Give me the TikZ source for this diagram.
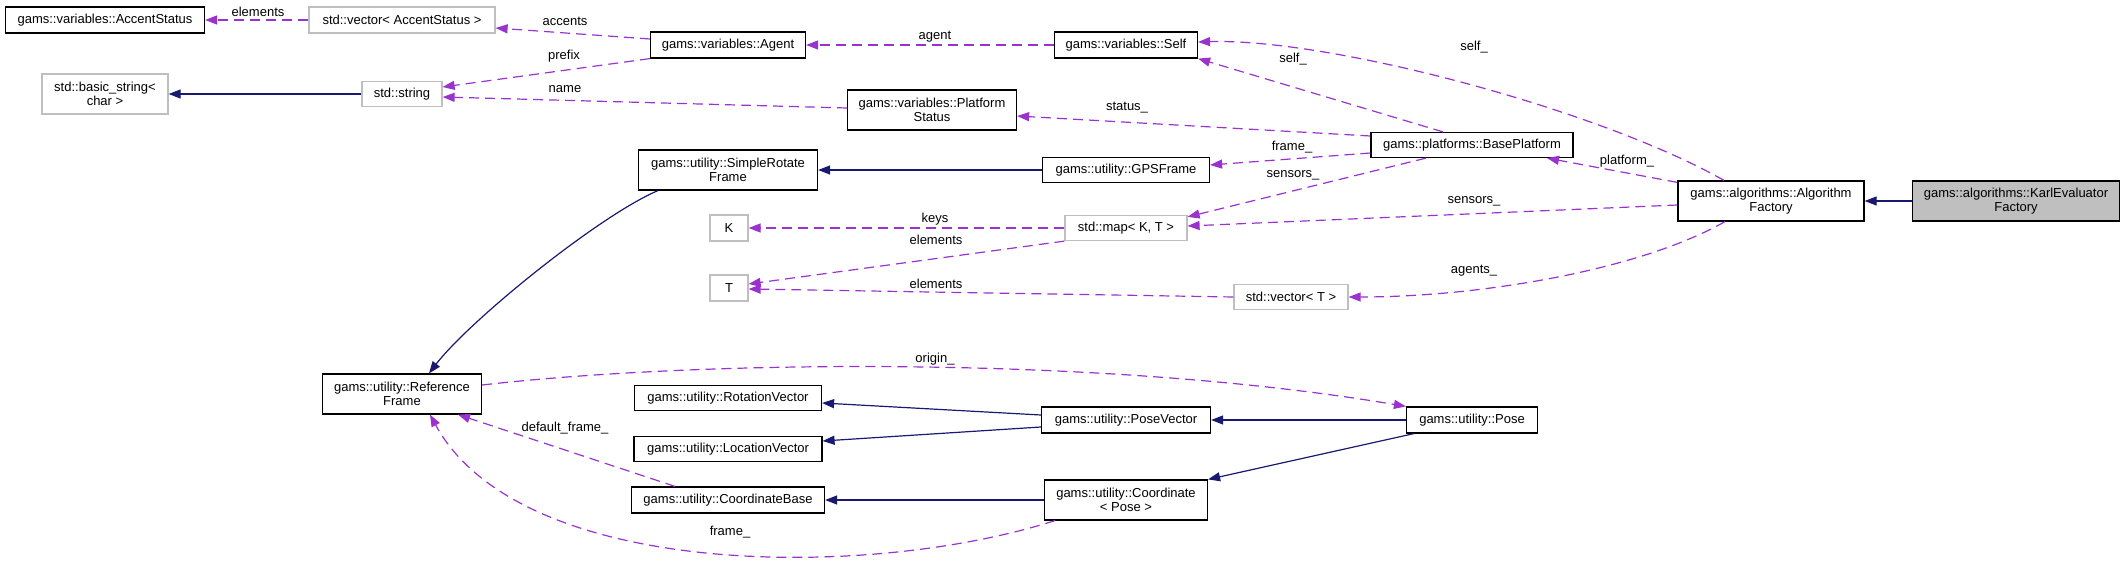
\documentclass[tikz,border=0pt]{standalone}
\usepackage{fontspec}
\setmainfont{Liberation Sans}
\usetikzlibrary{arrows.meta}
\definecolor{memcol}{HTML}{9A32CD}
\definecolor{inhcol}{HTML}{191970}
\definecolor{extcol}{HTML}{BFBFBF}

\begin{document}
\begin{tikzpicture}[x=1pt, y=-1pt, font=\fontsize{13}{14}\selectfont, >={Triangle[length=12pt,width=9pt]},
  cls/.style={draw, line width=1.2pt, align=center, inner sep=2pt, minimum height=26pt},
  ext/.style={cls, draw=extcol},
  hl/.style={cls, fill=extcol},
  tall/.style={minimum height=40pt},
  mem/.style={->, draw=memcol, line width=1.2pt, dash pattern=on 10pt off 6pt},
  inh/.style={->, draw=inhcol, line width=1.2pt},
  lbl/.style={inner sep=0pt}]
  \useasboundingbox (0,0) rectangle (2125,564);
  % classes
  \node[cls, minimum width=199pt] (accent) at (105,20) {gams::variables::AccentStatus};
  \node[ext, minimum width=186pt] (vecacc) at (402,20) {std::vector< AccentStatus >};
  \node[ext, tall, minimum width=126pt] (bstring) at (105,94) {std::basic\_string<\\char >};
  \node[ext, minimum width=80pt, minimum height=25pt] (string) at (402,94) {std::string};
  \node[cls, minimum width=155pt] (agent) at (728,45) {gams::variables::Agent};
  \node[cls, minimum width=143pt] (self) at (1126,45) {gams::variables::Self};
  \node[cls, tall, minimum width=169pt] (pstatus) at (932,110) {gams::variables::Platform\\Status};
  \node[cls, tall, minimum width=179pt] (srframe) at (728,170) {gams::utility::SimpleRotate\\Frame};
  \node[cls, minimum width=167pt, minimum height=25pt] (gps) at (1126,170) {gams::utility::GPSFrame};
  \node[cls, minimum width=202pt, minimum height=25pt] (baseplat) at (1472,145) {gams::platforms::BasePlatform};
  \node[cls, tall, minimum width=186pt] (algfac) at (1771,201) {gams::algorithms::Algorithm\\Factory};
  \node[hl, tall, minimum width=207pt] (karl) at (2016,201) {gams::algorithms::KarlEvaluator\\Factory};
  \node[ext, minimum width=38pt] (K) at (729,228) {K};
  \node[ext, minimum width=122pt, minimum height=25pt] (map) at (1126,228) {std::map< K, T >};
  \node[ext, minimum width=38pt] (T) at (729,288) {T};
  \node[ext, minimum width=114pt, minimum height=25pt] (vecT) at (1291,297) {std::vector< T >};
  \node[cls, tall, minimum width=159pt] (refframe) at (402,394) {gams::utility::Reference\\Frame};
  \node[cls, minimum width=187pt, minimum height=25pt] (rotvec) at (728,398) {gams::utility::RotationVector};
  \node[cls, minimum width=188pt, minimum height=25pt] (locvec) at (728,449) {gams::utility::LocationVector};
  \node[cls, minimum width=193pt] (coordbase) at (728,500) {gams::utility::CoordinateBase};
  \node[cls, minimum width=169pt] (posevec) at (1126,420) {gams::utility::PoseVector};
  \node[cls, tall, minimum width=163pt] (coordpose) at (1126,500) {gams::utility::Coordinate\\< Pose >};
  \node[cls, minimum width=131pt] (pose) at (1472,420) {gams::utility::Pose};
  % members
  \draw[mem] (vecacc) -- (accent) node[lbl] at (258,12) {elements};
  \draw[mem] ([yshift=6pt]agent.west) -- ([yshift=-8pt]vecacc.east) node[lbl] at (565,21) {accents};
  \draw[mem] (agent.south west) -- ([yshift=7pt]string.east) node[lbl] at (564,56) {prefix};
  \draw[mem] ([yshift=2pt]pstatus.west) -- ([yshift=-3pt]string.east) node[lbl] at (565,89) {name};
  \draw[mem] (self) -- (agent) node[lbl] at (935,37) {agent};
  \draw[mem] ([xshift=-29pt]baseplat.north) -- (self.south east) node[lbl] at (1293,59) {self\_};
  \draw[mem] ([xshift=-47pt]algfac.north) .. controls (1600,110) and (1330,38) .. ([yshift=3pt]self.east) node[lbl] at (1474,47) {self\_};
  \draw[mem] ([yshift=9pt]baseplat.west) -- ([yshift=-6pt]pstatus.east) node[lbl] at (1127,108) {status\_};
  \draw[mem] ([yshift=-8pt]baseplat.west) -- ([yshift=5pt]gps.east) node[lbl] at (1292,147) {frame\_};
  \draw[mem] ([xshift=-46pt]baseplat.south) -- ([yshift=-2pt]map.north east) node[lbl] at (1293,175) {sensors\_};
  \draw[mem] ([yshift=-4pt]algfac.west) -- ([yshift=2pt]map.east) node[lbl] at (1474,201) {sensors\_};
  \draw[mem] ([yshift=-2pt]algfac.north west) -- ([xshift=75pt]baseplat.south) node[lbl] at (1627,161) {platform\_};
  \draw[mem] ([xshift=-46pt]algfac.south) .. controls (1640,270) and (1480,297) .. (vecT.east) node[lbl] at (1474,271) {agents\_};
  \draw[mem] (map) -- (K) node[lbl] at (935,219) {keys};
  \draw[mem] (map.south west) -- ([yshift=4pt]T.east) node[lbl] at (936,240) {elements};
  \draw[mem] (vecT.west) -- ([yshift=-1pt]T.east) node[lbl] at (936,284) {elements};
  \draw[mem] ([yshift=9pt]refframe.east) .. controls (700,360) and (1100,355) .. (pose.north west) node[lbl] at (935,359) {origin\_};
  \draw[mem] ([xshift=-53pt]coordbase.north) -- ([xshift=56pt]refframe.south) node[lbl] at (565,428) {default\_frame\_};
  \draw[mem] ([xshift=11pt]coordpose.south west) .. controls (870,580) and (520,580) .. ([xshift=28pt]refframe.south) node[lbl] at (730,532) {frame\_};
  % inheritance
  \draw[inh] (string) -- (bstring);
  \draw[inh] (gps) -- (srframe);
  \draw[inh] (karl) -- (algfac);
  \draw[inh] ([xshift=-70pt]srframe.south) .. controls (600,215) and (470,320) .. ([xshift=27pt]refframe.north);
  \draw[inh] (pose) -- (posevec);
  \draw[inh] ([xshift=8pt]pose.south west) -- (coordpose.north east);
  \draw[inh] ([yshift=5pt]posevec.west) -- ([yshift=-5pt]rotvec.east);
  \draw[inh] ([yshift=-7pt]posevec.west) -- ([yshift=8pt]locvec.east);
  \draw[inh] (coordpose) -- (coordbase);
\end{tikzpicture}
\end{document}
